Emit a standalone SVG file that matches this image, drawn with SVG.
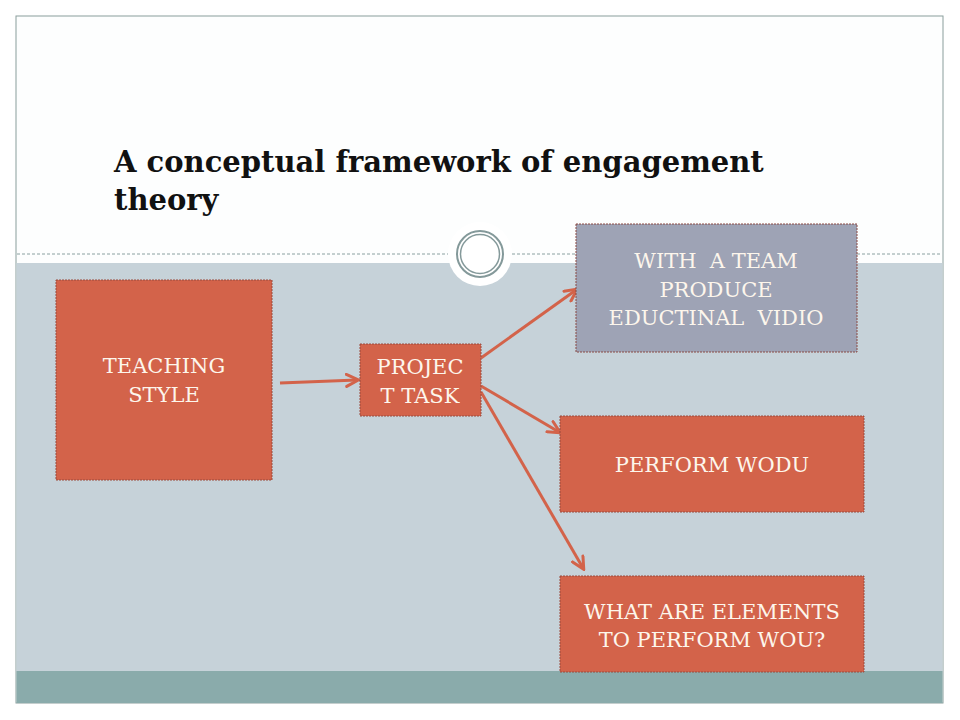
<svg xmlns="http://www.w3.org/2000/svg" width="960" height="720" viewBox="0 0 960 720">
<defs>
<style>
.box{fill:#d3634a;stroke:#9a4a3c;stroke-width:1;stroke-dasharray:2 1}
.gbox{fill:#9ea3b5;stroke:#8a4a44;stroke-width:1;stroke-dasharray:2 1}
.lbl{font-family:"DejaVu Serif","Liberation Serif",serif;font-size:21px;fill:#fdf6ec;text-anchor:middle;white-space:pre}
.title{font-family:"DejaVu Serif","Liberation Serif",serif;font-weight:bold;font-size:29px;fill:#111}
.conn{stroke:#d3634a;stroke-width:3;fill:none;marker-end:url(#ah)}
</style>
<marker id="ah" viewBox="0 0 10 10" refX="8" refY="5" markerWidth="5" markerHeight="5" orient="auto" markerUnits="strokeWidth">
<path d="M1,1 L9,5 L1,9" fill="none" stroke="#d3634a" stroke-width="2" stroke-linecap="round"/>
</marker>
</defs>
<rect width="960" height="720" fill="#ffffff"/>
<rect x="16" y="16" width="927" height="687" fill="#fdfefe" stroke="#8a9e9c" stroke-width="1"/>
<rect x="16.5" y="263" width="926" height="409" fill="#c6d2d9"/>
<rect x="16.5" y="671" width="926" height="32" fill="#8aabab"/>
<line x1="17" y1="254" x2="942" y2="254" stroke="#8aa0a0" stroke-width="1" stroke-dasharray="3 2"/>
<circle cx="480" cy="254" r="32" fill="#ffffff"/>
<circle cx="480" cy="254" r="23" fill="none" stroke="#84999a" stroke-width="2"/>
<circle cx="480" cy="254" r="19.5" fill="none" stroke="#84999a" stroke-width="1.5"/>
<text class="title" x="114" y="172">A conceptual framework of engagement</text>
<text class="title" x="114" y="210">theory</text>
<g id="connectors">
<line class="conn" x1="280" y1="383" x2="357" y2="380"/>
<line class="conn" x1="481" y1="358" x2="576" y2="290"/>
<line class="conn" x1="481" y1="386" x2="559" y2="432"/>
<line class="conn" x1="481" y1="392" x2="583" y2="568"/>
</g>
<g id="teaching">
<rect class="box" x="56" y="280" width="216" height="200"/>
<text class="lbl" x="164" y="373">TEACHING</text>
<text class="lbl" x="164" y="402">STYLE</text>
</g>
<g id="project">
<rect class="box" x="360" y="344" width="121" height="72"/>
<text class="lbl" x="420" y="374">PROJEC</text>
<text class="lbl" x="420" y="403">T TASK</text>
</g>
<g id="team">
<rect class="gbox" x="576" y="224" width="281" height="128"/>
<text class="lbl" x="716" y="268">WITH  A TEAM</text>
<text class="lbl" x="716" y="297">PRODUCE</text>
<text class="lbl" x="716" y="325">EDUCTINAL  VIDIO</text>
</g>
<g id="wodu">
<rect class="box" x="560" y="416" width="304" height="96"/>
<text class="lbl" x="712" y="472">PERFORM WODU</text>
</g>
<g id="elements">
<rect class="box" x="560" y="576" width="304" height="96"/>
<text class="lbl" x="712" y="619">WHAT ARE ELEMENTS</text>
<text class="lbl" x="712" y="647">TO PERFORM WOU?</text>
</g>
</svg>
